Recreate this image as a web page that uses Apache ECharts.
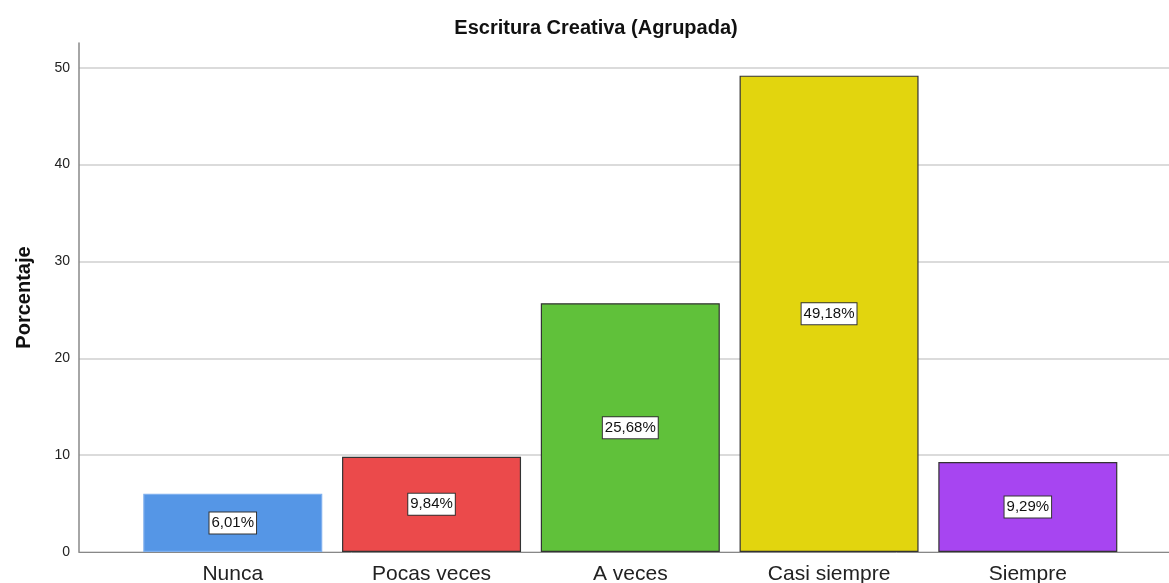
<!DOCTYPE html>
<html>
<head>
<meta charset="utf-8">
<script src="https://cdn.jsdelivr.net/npm/echarts@6/dist/echarts.min.js"></script>
<style>html,body{margin:0;padding:0;background:#fff}#c{width:1169px;height:583px}</style>
</head>
<body>
<div id="c"></div>
<script>
const categories = ['Nunca', 'Pocas veces', 'A veces', 'Casi siempre', 'Siempre'];
const values = [6.01, 9.84, 25.68, 49.18, 9.29];
const labels = ['6,01%', '9,84%', '25,68%', '49,18%', '9,29%'];
const colors = ['#5596E6', '#EB4A4B', '#60C13A', '#E2D50E', '#A745F1'];
const borders = ['#7fb0ee', '#333333', '#333333', '#333333', '#333333'];
const yTicks = [0, 10, 20, 30, 40, 50];

const chart = echarts.init(document.getElementById('c'), null, {renderer: 'canvas'});
const yMax = 52.55;
chart.setOption({
  animation: false,
  title: {
    text: 'Escritura Creativa (Agrupada)',
    left: 591, top: 13, textAlign: 'center',
    textStyle: {fontFamily: 'Liberation Sans, Arial', fontSize: 20, fontWeight: 'bold', color: '#111'}
  },
  grid: [
    {left: 79, right: 0, top: 43, bottom: 31, outerBoundsMode: 'none', containLabel: false},
    {left: 133.4, right: 41.8, top: 43, bottom: 31, outerBoundsMode: 'none', containLabel: false}
  ],
  xAxis: [
    {type: 'value', gridIndex: 0, min: 0, max: 1, axisLine: {show: true, lineStyle: {color: '#888', width: 1}},
     axisLabel: {show: false}, axisTick: {show: false}, splitLine: {show: false}},
    {type: 'category', gridIndex: 1, data: categories, axisLine: {show: false}, axisTick: {show: false},
     axisLabel: {margin: 12, fontFamily: 'Liberation Sans, Arial', fontSize: 21, color: '#222'}}
  ],
  yAxis: [
    {type: 'value', gridIndex: 0, min: 0, max: yMax, interval: 10,
     name: 'Porcentaje', nameLocation: 'middle', nameGap: 45, nameRotate: 90,
     nameTextStyle: {fontFamily: 'Liberation Sans, Arial', fontSize: 20, fontWeight: 'bold', color: '#111'},
     axisLine: {show: true, lineStyle: {color: '#888', width: 1.5}},
     axisTick: {show: false},
     axisLabel: {margin: 9, fontFamily: 'Liberation Sans, Arial', fontSize: 14, color: '#222',
       formatter: v => yTicks.includes(v) ? String(v) : ''},
     splitLine: {show: true, showMaxLine: false, lineStyle: {color: '#cfcfcf', width: 1.5}}},
    {type: 'value', gridIndex: 1, min: 0, max: yMax, show: false, splitLine: {show: false}}
  ],
  series: [{
    type: 'bar', xAxisIndex: 1, yAxisIndex: 1,
    barWidth: 179,
    data: values.map((v, i) => ({
      value: v,
      itemStyle: {color: colors[i], borderColor: borders[i], borderWidth: 1.2},
      label: {formatter: labels[i]}
    })),
    label: {
      show: true, position: 'inside',
      fontFamily: 'Liberation Sans, Arial', fontSize: 15, color: '#111',
      backgroundColor: '#fff', borderColor: '#333', borderWidth: 1,
      padding: [3, 2, 3, 2]
    }
  }]
});
</script>
</body>
</html>
